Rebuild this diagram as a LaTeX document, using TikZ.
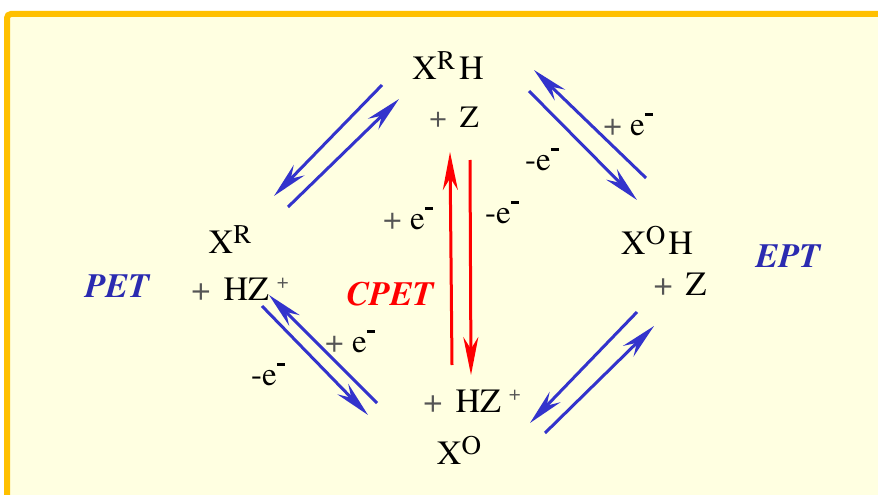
\documentclass[tikz,border=0pt]{standalone}
\usepackage{fontspec}
\setmainfont{texgyretermes}[Extension=.otf, UprightFont=*-regular, BoldFont=*-bold, ItalicFont=*-italic, BoldItalicFont=*-bolditalic]
\usetikzlibrary{arrows.meta}

\definecolor{panelfill}{HTML}{FFFFE1}
\definecolor{panelframe}{HTML}{FFC000}
\definecolor{etblue}{HTML}{3333CC}
\definecolor{mechblue}{HTML}{2B2BB0}
\definecolor{plusgrey}{HTML}{555555}

\newcommand{\supidx}[1]{\raisebox{10pt}{\fontsize{27}{27}\selectfont #1}}
\newcommand{\pl}{{\color{plusgrey}+}}
\newcommand{\addsp}{{\color{plusgrey}+}\hspace{13pt}}
\newcommand{\chargeplus}{\hspace{8pt}\raisebox{12pt}{\fontsize{21}{21}\selectfont\color{plusgrey}+}}
\newcommand{\eminus}{e\raisebox{19pt}{\rule{8pt}{3pt}}}

\begin{document}
\begin{tikzpicture}[
    x=1pt, y=-1pt,
    species/.style={anchor=base, inner sep=0pt, font=\fontsize{34}{40}\selectfont},
    elabel/.style={anchor=base, inner sep=0pt, font=\fontsize{33}{38}\selectfont},
    mech/.style={anchor=base, inner sep=0pt, font=\fontsize{34}{40}\selectfont\bfseries\itshape},
    etarrow/.style={etblue, line width=3pt, -{Stealth[length=36pt, width=15pt, inset=12pt]}},
    cpetarrow/.style={red, line width=3pt, -{Stealth[length=38pt, width=15pt, inset=12pt]}}
]
\useasboundingbox (0,0) rectangle (878,495);
\fill[white] (0,0) rectangle (878,495);

% panel
\begin{scope}
\clip (0,0) rectangle (878,495);
\draw[panelframe, fill=panelfill, line width=6pt, rounded corners=4pt] (7,14) rectangle (910,530);
\end{scope}

% Species
\node[species] (xrh) at (448,80) {X\supidx{R}\hspace{4pt}H};
\node[species, font=\fontsize{31}{36}\selectfont] (xrhz) at (454,127) {\addsp Z};
\node[species] (xr) at (230,253) {X\supidx{R}};
\node[species] (xrhzp) at (240,300) {\addsp HZ\chargeplus};
\node[species] (xoh) at (657,254) {X\supidx{O}\hspace{3pt}H};
\node[species] (xohz) at (680,295) {\addsp Z};
\node[species] (xohzp) at (472,412) {\addsp HZ\chargeplus};
\node[species] (xo) at (459,464) {X\supidx{O}};

% Mechanisms
\node[mech, mechblue] (pet) at (117,297) {PET};
\node[mech, mechblue] (ept) at (788,267) {EPT};
\node[mech, red] (cpet) at (390,305) {CPET};

% Electron labels
\node[elabel] (tr1) at (628,135) {\pl\ \eminus};
\node[elabel] (tr2) at (542,170) {-\eminus};
\node[elabel] (mid1) at (408,229) {\pl\ \eminus};
\node[elabel] (mid2) at (502,223) {-\eminus};
\node[elabel] (bl1) at (350,352) {\pl\ \eminus};
\node[elabel] (bl2) at (268,385) {-\eminus};

% Arrow ends
\coordinate (tl1s) at (382,85);  \coordinate (tl1e) at (274,196);
\coordinate (tl2s) at (288,207); \coordinate (tl2e) at (399,99);
\coordinate (tr1s) at (646,178); \coordinate (tr1e) at (534,70);
\coordinate (tr2s) at (529,91);  \coordinate (tr2e) at (637,200);
\coordinate (cp1s) at (452,365); \coordinate (cp1e) at (450,152);
\coordinate (cp2s) at (470,160); \coordinate (cp2e) at (471,375);
\coordinate (bl1s) at (377,403); \coordinate (bl1e) at (269,295);
\coordinate (bl2s) at (262,306); \coordinate (bl2e) at (368,415);
\coordinate (br1s) at (637,312); \coordinate (br1e) at (530,423);
\coordinate (br2s) at (545,433); \coordinate (br2e) at (654,326);

% PET / EPT arrows
\draw[etarrow] (tl1s) -- (tl1e);
\draw[etarrow] (tl2s) -- (tl2e);
\draw[etarrow] (tr1s) -- (tr1e);
\draw[etarrow] (tr2s) -- (tr2e);
\draw[etarrow] (bl1s) -- (bl1e);
\draw[etarrow] (bl2s) -- (bl2e);
\draw[etarrow] (br1s) -- (br1e);
\draw[etarrow] (br2s) -- (br2e);

% CPET arrows
\draw[cpetarrow] (cp1s) -- (cp1e);
\draw[cpetarrow] (cp2s) -- (cp2e);

\end{tikzpicture}
\end{document}
